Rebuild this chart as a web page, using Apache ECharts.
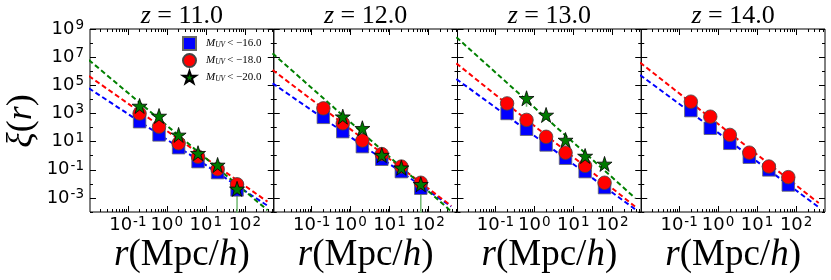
<!DOCTYPE html>
<html><head><meta charset="utf-8">
<script src="https://cdn.jsdelivr.net/npm/echarts@6/dist/echarts.min.js"></script>
<style>html,body{margin:0;padding:0;background:#fff}#c{width:831px;height:280px}</style>
</head><body><div id="c"></div>
<script>
// ---- data ----
const panelZ = ['11.0', '12.0', '13.0', '14.0'];
const rBins = [0.2, 0.63, 2.0, 6.3, 20, 63];
const xi16 = [
  [260, 30, 3.7, 0.38, 0.063, 0.0037],
  [530, 51, 4.4, 0.56, 0.074, 0.0049],
  [1000, 76, 5.8, 0.66, 0.074, 0.0054],
  [1600, 89, 7.6, 0.78, 0.098, 0.0083]
];
const xi18 = [
  [1000, 115, 7.6, 0.85, 0.11, 0.0093],
  [2300, 200, 12, 1.3, 0.17, 0.012],
  [5200, 350, 22, 1.65, 0.19, 0.012],
  [6900, 590, 30, 1.65, 0.17, 0.03]
];
const xi20 = [
  [3400, 660, 30, 1.5, 0.22, 0.0044],
  [null, 590, 89, 1.1, 0.14, 0.0093],
  [null, 12000, 780, 13, 0.95, 0.26],
  [null, null, null, null, null, null]
];
// dashed power-law fit lines: values at the two ends fitR
const fitR = [0.01, 380];
const fit16 = [[6.2e4, 2.8e-4], [1.38e5, 2.45e-4], [2.8e5, 1.6e-4], [5.4e5, 2.2e-4]];
const fit18 = [[4.6e5, 5.4e-4], [1.23e6, 2.7e-4], [3.6e6, 2.45e-4], [4.1e6, 4.3e-4]];
const fit20 = [[6.3e6, 1.35e-4], [1.86e7, 1.1e-4], [2.6e8, 1.0e-3], null];
// green error bars: [r, low, high]
const err20 = [[[63, 1e-6, 0.006]], [[63, 1e-6, 0.013]], [[0.63, 3000, 16000], [6.3, 8, 20]], []];
const legendNames = ['M_UV < -16.0', 'M_UV < -18.0', 'M_UV < -20.0'];
const legendNums = ['\u221216.0', '\u221218.0', '\u221220.0'];
const xLabelVals = [0.1, 1, 10, 100];
const yLabelVals = [1e-3, 1e-1, 10, 1e3, 1e5, 1e7, 1e9];
const yMinorVals = [1e-4, 1e-2, 1, 100, 1e4, 1e6, 1e8];

// ---- layout ----
const L0 = 90, PW = 183.75, TOP = 29, PH = 183;
const XMIN = 0.0107, XMAX = 550, YMIN = 1e-4, YMAX = 1e9;
const STAR = 'path://M50,0 L61.8,35.1 L98.9,35.1 L68.8,56.7 L80.2,91.9 L50,70.2 L19.8,91.9 L31.2,56.7 L1.1,35.1 L38.2,35.1 Z';
const xMinorVals = [];
for (let e = -2; e <= 2; e++) for (let m = 2; m <= 9; m++) xMinorVals.push(+(m * Math.pow(10, e)).toPrecision(3));

const supFmt = v => '{b|10}{s|' + Math.round(Math.log10(v)) + '}';
const tickRich = {
  b: { fontFamily: 'DejaVu Sans', fontSize: 18, color: '#000', lineHeight: 21 },
  s: { fontFamily: 'DejaVu Sans', fontSize: 13.5, color: '#000', verticalAlign: 'top', lineHeight: 21, padding: [0, 0, 7, 1] }
};
const labelBase = { fontFamily: 'DejaVu Sans', fontSize: 18, color: '#000', rich: tickRich, formatter: supFmt };

const grids = [], xAxes = [], yAxes = [], series = [], graphics = [];
for (let p = 0; p < 4; p++) {
  const left = L0 + p * PW;
  grids.push({ left: left, top: TOP, width: PW, height: PH, show: true, borderColor: '#000', borderWidth: 1, backgroundColor: 'transparent' });
  const xBase = { type: 'log', gridIndex: p, min: XMIN, max: XMAX, axisLine: { show: false, onZero: false }, splitLine: { show: false } };
  const xi = xAxes.length;
  xAxes.push(Object.assign({}, xBase, { position: 'bottom',
    axisTick: { inside: true, length: 6, customValues: xLabelVals, lineStyle: { color: '#000' } },
    axisLabel: Object.assign({}, labelBase, { customValues: xLabelVals, margin: 3 }) }));
  xAxes.push(Object.assign({}, xBase, { position: 'top',
    axisTick: { inside: true, length: 6, customValues: xLabelVals, lineStyle: { color: '#000' } }, axisLabel: { show: false } }));
  xAxes.push(Object.assign({}, xBase, { position: 'bottom',
    axisTick: { inside: true, length: 3, customValues: xMinorVals, lineStyle: { color: '#000' } }, axisLabel: { show: false } }));
  xAxes.push(Object.assign({}, xBase, { position: 'top',
    axisTick: { inside: true, length: 3, customValues: xMinorVals, lineStyle: { color: '#000' } }, axisLabel: { show: false } }));
  const yBase = { type: 'log', gridIndex: p, min: YMIN, max: YMAX, axisLine: { show: false, onZero: false }, splitLine: { show: false } };
  const yi = yAxes.length;
  yAxes.push(Object.assign({}, yBase, { position: 'left',
    axisTick: { inside: true, length: 6, customValues: yLabelVals, lineStyle: { color: '#000' } },
    axisLabel: p === 0 ? Object.assign({}, labelBase, { customValues: yLabelVals, margin: 6 }) : { show: false } }));
  yAxes.push(Object.assign({}, yBase, { position: 'right',
    axisTick: { inside: true, length: 6, customValues: yLabelVals, lineStyle: { color: '#000' } }, axisLabel: { show: false } }));
  yAxes.push(Object.assign({}, yBase, { position: 'left',
    axisTick: { inside: true, length: 3, customValues: yMinorVals, lineStyle: { color: '#000' } }, axisLabel: { show: false } }));
  yAxes.push(Object.assign({}, yBase, { position: 'right',
    axisTick: { inside: true, length: 3, customValues: yMinorVals, lineStyle: { color: '#000' } }, axisLabel: { show: false } }));

  const fits = [fit16[p], fit18[p], fit20[p]];
  const cols = ['#0000ff', '#ff0000', '#008000'];
  fits.forEach((f, k) => {
    if (!f) return;
    series.push({ type: 'line', xAxisIndex: xi, yAxisIndex: yi, silent: true, showSymbol: false, symbol: 'none', z: 2,
      data: [[fitR[0], f[0]], [fitR[1], f[1]]], lineStyle: { color: cols[k], width: 2, type: [5, 3] } });
  });
  err20[p].forEach(e => {
    series.push({ type: 'line', xAxisIndex: xi, yAxisIndex: yi, silent: true, showSymbol: false, symbol: 'none', z: 3,
      data: [[e[0], e[1]], [e[0], e[2]]], lineStyle: { color: '#6fb86f', width: 1.5 } });
  });
  const pts = arr => rBins.map((r, i) => arr[i] == null ? null : [r, arr[i]]).filter(d => d);
  series.push({ name: legendNames[0], type: 'scatter', xAxisIndex: xi, yAxisIndex: yi, z: 4, symbol: 'rect', symbolSize: 12.5,
    data: pts(xi16[p]), itemStyle: { color: '#0000ff', opacity: 1, borderColor: '#666', borderWidth: 0.8 } });
  series.push({ name: legendNames[1], type: 'scatter', xAxisIndex: xi, yAxisIndex: yi, z: 5, symbol: 'circle', symbolSize: 13.5,
    data: pts(xi18[p]), itemStyle: { color: '#ff0000', opacity: 1, borderColor: '#444', borderWidth: 0.8 } });
  series.push({ name: legendNames[2], type: 'scatter', xAxisIndex: xi, yAxisIndex: yi, z: 6, symbol: STAR, symbolSize: 15,
    data: pts(xi20[p]), itemStyle: { color: '#007a00', opacity: 1, borderColor: '#000', borderWidth: 0.8 } });

  const cx = left + PW / 2;
  graphics.push({ type: 'text', x: cx, y: 16, style: { text: '{i|z}{n| = ' + panelZ[p] + '}', align: 'center', verticalAlign: 'middle',
    rich: { i: { fontFamily: 'Liberation Serif', fontStyle: 'italic', fontSize: 26, fill: '#000' }, n: { fontFamily: 'Liberation Serif', fontSize: 26, fill: '#000' } } } });
  graphics.push({ type: 'text', x: cx, y: 255, style: { text: '{i|r}{n|(Mpc/}{i|h}{n|)}', align: 'center', verticalAlign: 'middle',
    rich: { i: { fontFamily: 'Liberation Serif', fontStyle: 'italic', fontSize: 37, fill: '#000' }, n: { fontFamily: 'Liberation Serif', fontSize: 37, fill: '#000' } } } });
}
graphics.push({ type: 'text', x: 22, y: 121, rotation: Math.PI / 2, style: { text: '{i|\u03be}{n|(}{i|r}{n|)}', align: 'center', verticalAlign: 'middle',
  rich: { i: { fontFamily: 'Liberation Serif', fontStyle: 'italic', fontSize: 36, fill: '#000' }, n: { fontFamily: 'Liberation Serif', fontSize: 36, fill: '#000' } } } });

const legendIcons = ['rect', 'circle', STAR];
const option = {
  animation: false,
  backgroundColor: '#fff',
  grid: grids, xAxis: xAxes, yAxis: yAxes, series: series, graphic: graphics,
  legend: {
    orient: 'vertical', left: 182, top: 36, padding: 0, itemGap: 2, itemWidth: 13, itemHeight: 13,
    selectedMode: false,
    data: legendNames.map((n, i) => ({ name: n, icon: legendIcons[i] })),
    formatter: n => '{i|M}{u|UV}{t|< ' + legendNums[legendNames.indexOf(n)] + '}',
    textStyle: { rich: {
      i: { fontFamily: 'Liberation Serif', fontStyle: 'italic', fontSize: 11, color: '#000', padding: [0, 0, 0, 5] },
      u: { fontFamily: 'Liberation Serif', fontStyle: 'italic', fontSize: 7.5, color: '#000', verticalAlign: 'bottom', padding: [0, 2, 0, 0] },
      t: { fontFamily: 'Liberation Serif', fontSize: 11, color: '#000' }
    } }
  }
};
const chart = echarts.init(document.getElementById('c'), null, { renderer: 'canvas' });
chart.setOption(option);
</script>
</body></html>
